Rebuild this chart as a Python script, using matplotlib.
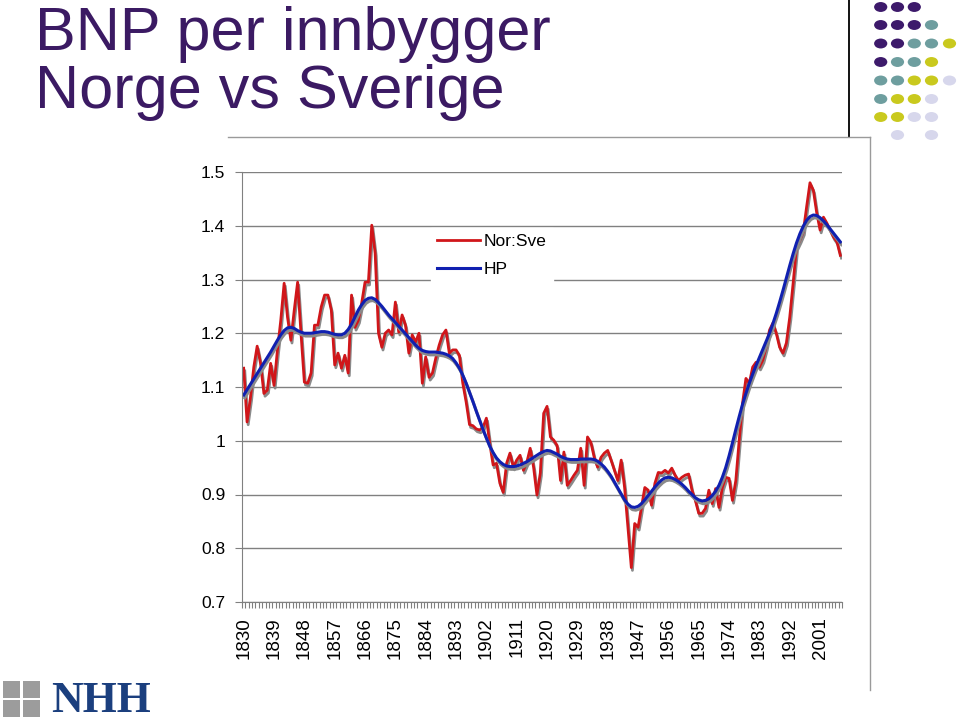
import matplotlib
matplotlib.use("Agg")
import matplotlib.pyplot as plt
import matplotlib.patheffects as pe
from matplotlib.patches import Circle, Rectangle
from matplotlib.lines import Line2D

plt.rcParams['font.family'] = ['Liberation Sans', 'DejaVu Sans']

years = list(range(1830, 2008))

nor_sve = [
    1.135, 1.035, 1.080, 1.137, 1.176, 1.144, 1.088, 1.094, 1.144, 1.103,  # 1830s
    1.168, 1.224, 1.293, 1.230, 1.187, 1.243, 1.295, 1.200, 1.109, 1.107,  # 1840s
    1.126, 1.215, 1.215, 1.249, 1.271, 1.271, 1.243, 1.141, 1.163, 1.135,  # 1850s
    1.159, 1.126, 1.271, 1.211, 1.224, 1.256, 1.295, 1.295, 1.401, 1.349,  # 1860s
    1.200, 1.174, 1.200, 1.206, 1.197, 1.258, 1.202, 1.234, 1.215, 1.163,  # 1870s
    1.197, 1.184, 1.200, 1.107, 1.156, 1.118, 1.126, 1.154, 1.178, 1.197,  # 1880s
    1.206, 1.163, 1.169, 1.169, 1.159, 1.107, 1.072, 1.030, 1.028, 1.022,  # 1890s
    1.020, 1.025, 1.042, 0.995, 0.955, 0.958, 0.921, 0.904, 0.958, 0.977,  # 1900s
    0.951, 0.964, 0.973, 0.945, 0.960, 0.986, 0.951, 0.899, 0.940, 1.051,  # 1910s
    1.064, 1.007, 1.001, 0.991, 0.926, 0.979, 0.917, 0.926, 0.936, 0.945,  # 1920s
    0.986, 0.917, 1.007, 0.997, 0.969, 0.951, 0.969, 0.977, 0.982, 0.964,  # 1930s
    0.945, 0.926, 0.964, 0.913, 0.839, 0.764, 0.846, 0.839, 0.876, 0.913,  # 1940s
    0.908, 0.880, 0.921, 0.941, 0.940, 0.945, 0.940, 0.949, 0.936, 0.926,  # 1950s
    0.932, 0.936, 0.938, 0.908, 0.889, 0.865, 0.865, 0.874, 0.908, 0.883,  # 1960s
    0.911, 0.876, 0.913, 0.932, 0.930, 0.889, 0.926, 1.001, 1.070, 1.116,  # 1970s
    1.107, 1.137, 1.146, 1.137, 1.150, 1.174, 1.206, 1.219, 1.200, 1.174,  # 1980s
    1.163, 1.182, 1.230, 1.293, 1.360, 1.373, 1.388, 1.435, 1.480, 1.466,  # 1990s
    1.424, 1.392, 1.416, 1.405, 1.392, 1.379, 1.370, 1.345,                # 2000s
]

hp = [
    1.085, 1.095, 1.105, 1.115, 1.125, 1.135, 1.145, 1.155, 1.165, 1.176,
    1.187, 1.197, 1.205, 1.210, 1.211, 1.209, 1.205, 1.202, 1.200, 1.200,
    1.200, 1.201, 1.202, 1.203, 1.203, 1.202, 1.200, 1.198, 1.197, 1.197,
    1.200, 1.207, 1.217, 1.230, 1.243, 1.253, 1.261, 1.265, 1.266, 1.263,
    1.257, 1.250, 1.242, 1.234, 1.227, 1.220, 1.213, 1.206, 1.199, 1.192,
    1.185, 1.178, 1.172, 1.168, 1.166, 1.165, 1.165, 1.165, 1.164, 1.163,
    1.161, 1.158, 1.153, 1.145, 1.135, 1.122, 1.107, 1.090, 1.073, 1.055,
    1.038, 1.021, 1.005, 0.990, 0.978, 0.968, 0.961, 0.956, 0.953, 0.952,
    0.952, 0.953, 0.955, 0.958, 0.961, 0.965, 0.969, 0.973, 0.977, 0.980,
    0.982, 0.981, 0.978, 0.975, 0.971, 0.968, 0.966, 0.965, 0.965, 0.965,
    0.966, 0.966, 0.966, 0.966, 0.965, 0.962, 0.957, 0.951, 0.943, 0.934,
    0.923, 0.912, 0.901, 0.890, 0.882, 0.877, 0.876, 0.878, 0.883, 0.890,
    0.898, 0.906, 0.914, 0.921, 0.927, 0.931, 0.932, 0.931, 0.928, 0.924,
    0.919, 0.913, 0.906, 0.900, 0.894, 0.890, 0.888, 0.889, 0.892, 0.898,
    0.906, 0.917, 0.932, 0.950, 0.972, 0.996, 1.021, 1.045, 1.068, 1.088,
    1.107, 1.124, 1.140, 1.155, 1.170, 1.185, 1.200, 1.218, 1.237, 1.258,
    1.280, 1.303, 1.326, 1.348, 1.368, 1.385, 1.399, 1.410, 1.417, 1.420,
    1.419, 1.415, 1.409, 1.402, 1.394, 1.386, 1.378, 1.370,
]

y_ticks = [0.7, 0.8, 0.9, 1.0, 1.1, 1.2, 1.3, 1.4, 1.5]
y_ticklabels = ["0.7", "0.8", "0.9", "1", "1.1", "1.2", "1.3", "1.4", "1.5"]
x_label_years = list(range(1830, 2008, 9))
series_names = ["Nor:Sve", "HP"]
title_lines = ["BNP per innbygger", "Norge vs Sverige"]

W, H = 960, 722
fig = plt.figure(figsize=(W / 100, H / 100), dpi=100)
fig.patch.set_facecolor("white")

def fx(px):
    return px / W

def fy(py):
    return 1 - py / H

# Title (two lines)
fig.text(fx(35), fy(50), title_lines[0], fontsize=44, color="#3b1a63",
         ha="left", va="baseline")
fig.text(fx(35), fy(108), title_lines[1], fontsize=44, color="#3b1a63",
         ha="left", va="baseline")

# Decorative vertical line and chart frame
fig.add_artist(Line2D([fx(849), fx(849)], [fy(0), fy(137)], color="black", lw=1.3))
fig.add_artist(Line2D([fx(228), fx(870)], [fy(137), fy(137)], color="#9a9a9a", lw=1.0))
fig.add_artist(Line2D([fx(870), fx(870)], [fy(137), fy(690)], color="#9a9a9a", lw=1.0))

# Dots decoration
dot_cols = [880.7, 897.5, 914.3, 931.5, 949.5]
dot_rows = [7, 25, 43.5, 62, 80.5, 99, 117, 135]
P, T, Y, L = "#3d1a6b", "#6e9e9f", "#c9c91e", "#d7d7ec"
dot_grid = [
    [P, P, P, None, None],
    [P, P, P, T, None],
    [P, P, T, T, Y],
    [P, T, T, Y, None],
    [T, T, Y, Y, L],
    [T, Y, Y, L, None],
    [Y, Y, L, L, None],
    [None, L, None, L, None],
]
for r, row in enumerate(dot_grid):
    for c, col in enumerate(row):
        if col is None:
            continue
        fig.add_artist(Circle((fx(dot_cols[c]), fy(dot_rows[r])), 6.6 / W,
                              transform=fig.transFigure, color=col, ec="none"))

# Logo (NHH)
for (x0, y0) in [(3, 681), (23, 681), (3, 700), (23, 700)]:
    fig.add_artist(Rectangle((fx(x0), fy(y0 + 17)), 17 / W, 17 / H,
                             transform=fig.transFigure, color="#9c9c9c", ec="none"))
fig.text(fx(51), fy(712), "NHH", fontsize=31.5, fontweight="bold",
         family=["Liberation Serif", "DejaVu Serif"], color="#1b3f7e",
         ha="left", va="baseline")

# Axes
ax = fig.add_axes([fx(242), fy(602), fx(842) - fx(242), fy(172) - fy(602)])
ax.set_xlim(1829.5, 2007.5)
ax.set_ylim(0.7, 1.5)
ax.set_yticks(y_ticks)
ax.set_yticklabels(y_ticklabels)
ax.set_xticks(x_label_years)
ax.set_xticklabels([str(v) for v in x_label_years], rotation=90)
ax.set_xticks([v + 0.5 for v in range(1829, 2008)], minor=True)
ax.tick_params(axis="x", which="major", length=0, pad=11, labelsize=13.5)
ax.tick_params(axis="x", which="minor", length=4, color="#808080", width=0.8, direction="out")
ax.tick_params(axis="y", which="major", length=5, color="#808080", pad=7, labelsize=12.5)
for s in ["top", "right"]:
    ax.spines[s].set_visible(False)
ax.spines["left"].set_color("#808080")
ax.spines["bottom"].set_color("#808080")
ax.grid(axis="y", color="#808080", lw=1.0)
ax.set_axisbelow(True)

shadow = [pe.SimpleLineShadow(offset=(0.8, -2.0), shadow_color="#8a8a8a", alpha=1.0),
          pe.Normal()]
l1, = ax.plot(years, nor_sve, color="#d0161a", lw=2.0, label=series_names[0],
              path_effects=shadow, solid_joinstyle="round")
l2, = ax.plot(years, hp, color="#1020b0", lw=2.2, label=series_names[1],
              path_effects=shadow)

leg = ax.legend(handles=[l1, l2], loc="upper left",
                bbox_to_anchor=((422 - 242) / 600, (602 - 219) / 430),
                frameon=True, fancybox=False, framealpha=1.0, edgecolor="white",
                fontsize=12.5, handlelength=2.5, handletextpad=0.2, labelspacing=0.75,
                borderpad=0.35)
for h in leg.legend_handles:
    h.set_path_effects([])

fig.savefig("out.png", dpi=100, facecolor="white")
